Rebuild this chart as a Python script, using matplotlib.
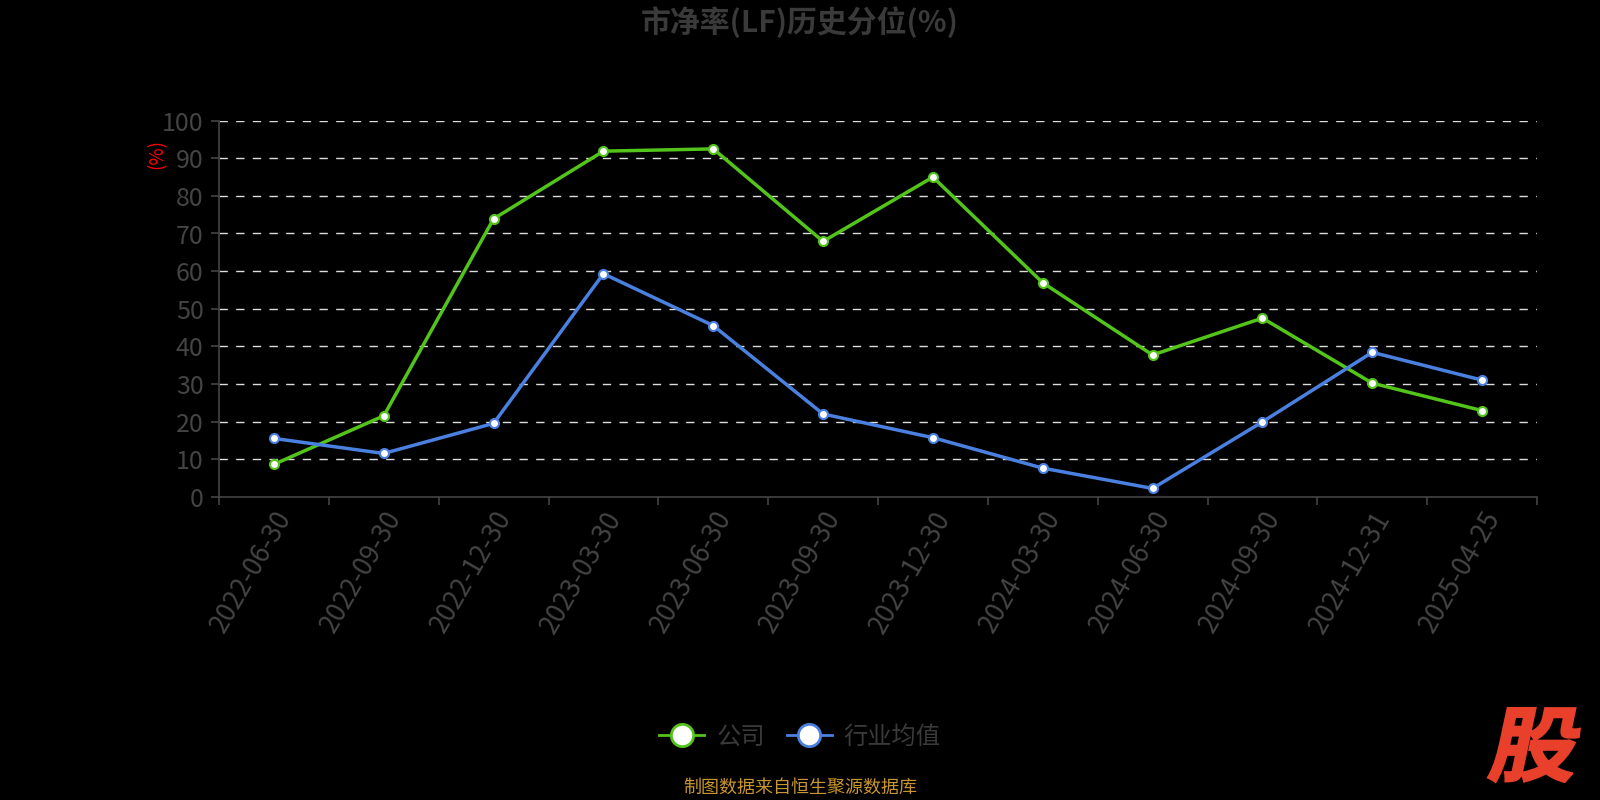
import matplotlib
matplotlib.use("Agg")
import matplotlib.pyplot as plt
import numpy as np
from matplotlib.textpath import TextPath
from matplotlib.font_manager import FontProperties
from matplotlib.patches import PathPatch
from matplotlib.transforms import Affine2D, IdentityTransform
from matplotlib.lines import Line2D

plt.rcParams['font.family'] = ['Noto Sans CJK SC', 'DejaVu Sans']

dates = ["2022-06-30", "2022-09-30", "2022-12-30", "2023-03-30", "2023-06-30", "2023-09-30",
         "2023-12-30", "2024-03-30", "2024-06-30", "2024-09-30", "2024-12-31", "2025-04-25"]
company = [8.6, 21.5, 73.9, 91.9, 92.5, 67.9, 85.0, 56.9, 37.7, 47.5, 30.2, 22.9]
industry = [15.5, 11.5, 19.5, 59.3, 45.5, 22.0, 15.7, 7.6, 2.2, 19.9, 38.4, 31.0]
yticks = list(range(0, 101, 10))

green = '#52c41a'
blue = '#4a80e0'
grey = '#444444'

fig = plt.figure(figsize=(16, 8), dpi=100, facecolor='black')
ax = fig.add_axes([219 / 1600, 1 - 496.7 / 800, (1537 - 219) / 1600, (496.7 - 120.7) / 800])
ax.set_facecolor('black')

x = np.arange(len(dates))
ax.plot(x, company, color=green, lw=2.5, marker='o', ms=6.5, mfc='white', mec=green, mew=1.5, zorder=4)
ax.plot(x, industry, color=blue, lw=2.5, marker='o', ms=6.5, mfc='white', mec=blue, mew=1.5, zorder=4)

ax.set_xlim(-0.5, len(dates) - 0.5)
ax.set_ylim(0, 100)
ax.set_yticks(yticks)
for v in yticks[1:]:
    ax.axhline(v, color='#dddddd', lw=1, ls=(0, (6, 6)), zorder=1)

# category boundaries as major ticks, labels on minor ticks at centres
ax.set_xticks(np.arange(-0.5, len(dates), 1.0))
ax.set_xticklabels([])
ax.set_xticks(x, minor=True)
ax.set_xticklabels(dates, minor=True, rotation=60, ha='right', va='top',
                   rotation_mode='anchor', fontsize=19, color=grey)
ax.tick_params(axis='x', which='major', length=6, color=grey, width=1.2)
ax.tick_params(axis='x', which='minor', length=0, pad=7)
ax.tick_params(axis='y', length=6, color=grey, width=1.2, labelsize=18, labelcolor=grey, pad=5)

for s in ['top', 'right']:
    ax.spines[s].set_visible(False)
for s in ['left', 'bottom']:
    ax.spines[s].set_color(grey)
    ax.spines[s].set_linewidth(1.2)

fig.text(157 / 1600, 1 - 154 / 800, '(%)', color='red', fontsize=13.5, rotation=90,
         ha='center', va='center')

fig.text(0.5, 1 - 22 / 800, '市净率(LF)历史分位(%)', color='#3a3a3a', fontsize=21.5,
         fontweight='bold', ha='center', va='center')

handles = [Line2D([], [], color=green, lw=2, marker='o', ms=16, mfc='white', mec=green, mew=2),
           Line2D([], [], color=blue, lw=2, marker='o', ms=16, mfc='white', mec=blue, mew=2)]
leg = fig.legend(handles, ['公司', '行业均值'], loc='center', bbox_to_anchor=(0.5, 1 - 737 / 800),
                 ncol=2, frameon=False, fontsize=17.5, handlelength=1.85, handletextpad=0.5,
                 columnspacing=0.9)
for t in leg.get_texts():
    t.set_color('#3a3a3a')

fig.text(0.5, 1 - 788 / 800, '制图数据来自恒生聚源数据库', color='#c8962c', fontsize=13,
         ha='center', va='center')

# red logo glyph, skewed
fp = FontProperties(family='Noto Sans CJK SC', weight='black')
tp = TextPath((0, 0), '股', size=1, prop=fp)
bb = tp.get_extents()
scale = 74 / bb.height
tr = (Affine2D().translate(-bb.x0, -bb.y0).scale(scale * 1.08, scale).skew_deg(12, 0)
      .translate(1487, 800 - 782))
logo = PathPatch(tr.transform_path(tp), facecolor='#e8402a', edgecolor='#e8402a', lw=1.5,
                 transform=IdentityTransform())
fig.add_artist(logo)

fig.savefig('out.png', dpi=100, facecolor='black')
